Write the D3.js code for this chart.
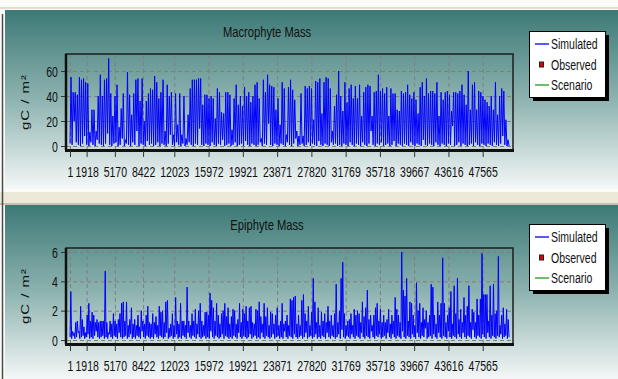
<!DOCTYPE html>
<html>
<head>
<meta charset="utf-8">
<script src="https://cdn.jsdelivr.net/npm/d3@7"></script>
<style>
  body { margin: 0; background: #fbfbf9; }
  text { font-family: "Liberation Sans", Arial, sans-serif; fill: #111; }
</style>
</head>
<body>
<div id="chart"></div>
<script>
// tick labels along the time axis (step numbers)
const xTicks = [1, 1918, 5170, 8422, 12023, 15972, 19921, 23871, 27820, 31769, 35718, 39667, 43616, 47565];
const tStart = 1, tEnd = 50600;

const legendLabels = ['Simulated', 'Observed', 'Scenario'];

// Macrophyte Mass, peak heights (gC/m2)
const macroPeaks = [
  55,43,43,41,55,53,54,51,50,11,29,29,12,40,57,40,53,54,70,42,24,40,49,15,30,42,5,59,41,25,42,53,54,36,54,20,36,42,46,45,56,51,38,43,53,12,49,40,43,9,42,17,42,9,40,6,25,46,53,53,53,54,54,33,41,
  41,38,40,38,22,46,43,27,26,43,43,41,13,38,49,33,40,32,47,40,43,35,40,49,51,38,6,53,43,57,49,48,47,29,38,17,51,46,9,47,53,45,37,12,8,42,8,48,46,48,46,21,52,51,54,26,51,55,54,46,12,32,41,60,40,28,51,35,46,49,38,
  48,38,49,24,43,47,49,48,24,43,44,57,44,46,42,47,24,46,42,42,29,28,44,42,43,49,41,38,43,37,26,47,51,40,54,42,44,44,42,51,24,43,37,43,44,41,28,43,43,42,44,49,41,33,60,29,49,51,29,44,43,40,37,35,32,40,29,51,25,40,46,44,21,5
];
// troughs between the spikes
const macroLows = [
  2,1,20,3,1,0,2,8,1,0, 3,1,0,5,2,1,0,2,10,1, 0,2,3,0,1,6,0,2,1,0, 3,1,12,0,2,1,0,4,1,2,
  0,1,3,0,2,1,0,2,9,1, 0,3,1,0,2,0,1,3,1,0, 2,1,14,1,0,2,1,0,3,1, 0,2,1,5,0,1,2,0,1,3,
  0,1,2,0,4,1,0,2,1,0, 1,3,0,2,1,18,1,0,2,1, 0,2,1,0,3,1,0,2,6,0, 1,2,0,1,3,0,2,1,0,4,
  1,0,2,1,0,3,1,2,0,1, 0,2,1,0,3,1,0,2,1,0, 3,1,0,2,12,1,0,2,1,3, 0,1,2,0,1,4,0,2,1,0,
  2,1,0,3,1,0,2,1,0,5, 1,0,2,1,0,3,1,0,2,1, 0,2,1,16,0,1,3,0,2,1, 0,1,2,0,3,1,0,2,1,0,
  2,1,0,3,1,0,2,8,1,0
];

// Epiphyte Mass, peak heights (gC/m2)
const epiPeaks = [
  3.3,0.6,0.5,1.2,1.3,0.6,2.3,1.4,0.9,0.5,1.7,2.5,1.3,1.9,1.7,1.2,1.4,1.2,1.3,1.3,1.3,4.7,1.2,0.5,1.3,1.1,1.8,1.3,1.1,1.4,
  1.8,2.5,2.6,1.3,2.6,1.0,1.4,2.2,1.1,1.4,1.0,1.7,0.9,2.0,1.3,1.1,1.7,2.3,1.2,1.1,1.8,1.2,1.6,1.0,2.3,1.9,2.0,1.2,2.6,2.7,
  0.8,1.1,1.8,1.0,2.9,1.3,1.1,2.5,1.3,1.3,1.0,3.6,1.3,1.0,1.8,1.3,2.1,1.1,2.0,2.5,1.3,1.0,1.9,1.9,1.7,3.2,
  2.7,2.2,1.3,2.5,1.7,1.1,1.8,2.0,2.5,1.6,2.2,1.1,1.6,2.1,2.0,1.1,1.4,2.5,1.2,2.1,1.8,2.3,1.3,2.2,2.3,1.2,1.1,2.1,2.0,2.6,
  1.6,1.1,2.5,1.6,2.2,1.0,1.9,1.8,1.1,1.7,2.2,1.0,1.3,2.5,1.1,1.3,1.7,1.0,2.8,2.7,2.9,3.0,1.1,1.7,1.0,2.7,3.1,1.8,1.3,2.3,
  1.0,1.9,4.2,2.6,1.2,2.2,1.0,1.9,1.3,1.8,1.2,2.3,1.3,1.7,1.0,1.8,3.8,1.2,2.0,4.2,5.3,1.8,1.0,1.3,1.4,1.8,1.0,2.1,1.7,2.0,1.8,1.2,
  2.6,1.6,2.2,3.4,1.4,1.7,1.0,1.7,2.2,2.5,1.3,2.1,1.2,1.7,1.2,1.4,2.1,1.1,1.7,1.3,2.9,2.1,1.7,1.2,6.0,3.4,3.0,4.2,1.3,2.6,
  2.5,1.7,1.0,3.9,2.0,2.5,1.2,2.2,1.4,2.0,1.2,1.7,3.8,3.6,1.7,1.1,2.6,1.7,2.5,5.6,2.5,1.2,1.7,2.2,3.3,1.1,3.7,1.8,4.2,1.4,
  2.1,1.2,2.9,1.7,2.3,3.7,1.2,2.1,1.9,1.2,2.8,1.7,2.8,5.9,3.1,3.1,3.1,1.3,3.7,1.7,3.8,1.8,2.0,5.7,1.0,1.7,2.2,1.1,2.1,1.4
];
const epiLows = [
  0.2,0.1,0.3,0.1,0.2,0.5,0.1,0.2,0.3,0.1, 0.2,0.4,0.1,0.2,0.1,0.3,0.6,0.2,0.1,0.2,
  0.3,0.1,0.2,0.1,0.4,0.2,0.1,0.3,0.2,0.1, 0.5,0.2,0.1,0.2,0.3,0.1,0.2,0.4,0.1,0.2,
  0.1,0.3,0.2,0.1,0.6,0.2,0.1,0.3,0.2,0.1, 0.2,0.1,0.4,0.2,0.1,0.3,0.2,0.1,0.2,0.5,
  0.1,0.2,0.3,0.1,0.2,0.4,0.1,0.2,0.1,0.3, 0.2,0.1,0.5,0.2,0.1,0.3,0.2,0.1,0.4,0.2,
  0.1,0.2,0.3,0.1,0.2,0.1,0.6,0.2,0.1,0.3, 0.2,0.1,0.2,0.4,0.1,0.3,0.2,0.1,0.2,0.1,
  0.3,0.2,0.1,0.5,0.2,0.1,0.3,0.2,0.1,0.2, 0.4,0.1,0.2,0.3,0.1,0.2,0.1,0.5,0.2,0.1,
  0.3,0.2,0.1,0.2,0.4,0.1,0.2,0.3,0.1,0.2, 0.1,0.6,0.2,0.1,0.3,0.2,0.1,0.4,0.2,0.1,
  0.2,0.3,0.1,0.2,0.5,0.1,0.2,0.3,0.1,0.2, 0.4,0.1,0.2,0.1,0.3,0.2,0.1,0.5,0.2,0.1,
  0.3,0.2,0.1,0.2,0.4,0.1,0.7,0.2,0.1,0.3, 0.2,0.1,0.4,0.2,0.1,0.3,0.2,0.1,0.5,0.2,
  0.1,0.3,0.2,0.1,0.6,0.2,0.1,0.3,0.2,0.4, 0.1,0.2,0.3,0.1,0.5,0.2,0.1,0.4,0.2,0.1,
  0.3,0.2,0.1,0.6,0.2,0.1,0.3,0.2,0.1,0.4, 0.2,0.1,0.5,0.2,0.1,0.3,0.2,0.8,0.1,0.2,
  0.3,0.1,0.4,0.2,0.1,0.5,0.2,0.1,0.3,0.2, 0.1,0.6,0.2,0.1,0.3,0.2,0.1,0.4,0.2,0.1,
  0.5,0.2,0.1,0.3,0.2,0.1,0.7,0.2,0.1,0.3, 0.2,0.1,0.4,0.2,0.1,0.5,0.2,0.1,0.3,0.2,
  0.1,0.3,0.2,0.4,0.1,0.2,0.3,0.1,0.2,0.1
];

const macroYTicks = [0, 20, 40, 60];
const epiYTicks = [0, 2, 4, 6];

const W = 618, H = 379;
const plotLeft = 66, plotRight = 513, plotH = 96;
const squeeze = 0.75; // the screenshot text is narrow

const svg = d3.select('#chart').append('svg')
  .attr('width', W)
  .attr('height', H);

const defs = svg.append('defs');
const grad = defs.append('linearGradient')
  .attr('id', 'panelGrad')
  .attr('x1', 0).attr('y1', 0).attr('x2', 0).attr('y2', 1);
grad.append('stop').attr('offset', '0%').attr('stop-color', '#3c7976');
grad.append('stop').attr('offset', '50%').attr('stop-color', '#8db3b0');
grad.append('stop').attr('offset', '100%').attr('stop-color', '#f4f7f7');

// window chrome round the two panels
svg.append('rect').attr('x', 0).attr('y', 0).attr('width', W).attr('height', H).attr('fill', '#fbfbf9');
svg.append('rect').attr('x', 0).attr('y', 7).attr('width', W).attr('height', 2).attr('fill', '#e2dece');
svg.append('rect').attr('x', 0).attr('y', 192).attr('width', W).attr('height', 11).attr('fill', '#ece9d8');
svg.append('rect').attr('x', 0).attr('y', 203).attr('width', W).attr('height', 2).attr('fill', '#c6c1ae');
svg.append('line').attr('x1', 2.5).attr('x2', 2.5).attr('y1', 14).attr('y2', H)
  .attr('stroke', '#4a4a4a').attr('stroke-width', 1.5);

const x = d3.scaleLinear()
  .domain([-460, 51057])
  .range([plotLeft, plotRight]);

function buildSeries(peaks, lows) {
  const step = (tEnd - tStart) / peaks.length;
  const pts = [];
  peaks.forEach((p, i) => {
    const t = tStart + i * step;
    pts.push({ t: t, v: lows[i] || 0 });
    pts.push({ t: t + step * 0.5, v: p });
  });
  pts.push({ t: tEnd, v: lows[peaks.length] || 0 });
  return pts;
}

function drawPanel(cfg) {
  const top = cfg.plotTop, bottom = cfg.plotTop + plotH;

  svg.append('rect')
    .attr('x', 5).attr('y', cfg.panelTop)
    .attr('width', W - 5).attr('height', cfg.panelH)
    .attr('fill', 'url(#panelGrad)');

  const y = d3.scaleLinear().domain(cfg.yDomain).range([bottom, top]);
  const g = svg.append('g');

  // dashed grid
  g.append('g')
    .attr('transform', `translate(0,${bottom})`)
    .call(d3.axisBottom(x).tickValues(xTicks).tickSize(-plotH).tickFormat(''))
    .call(s => s.select('.domain').remove())
    .selectAll('line').attr('stroke', '#7f7f7f').attr('stroke-dasharray', '4,3');
  g.append('g')
    .attr('transform', `translate(${plotLeft},0)`)
    .call(d3.axisLeft(y).tickValues(cfg.yTicks).tickSize(-(plotRight - plotLeft)).tickFormat(''))
    .call(s => s.select('.domain').remove())
    .selectAll('line').attr('stroke', '#7f7f7f').attr('stroke-dasharray', '4,3');

  // data
  const clipId = 'clip' + cfg.plotTop;
  defs.append('clipPath').attr('id', clipId)
    .append('rect').attr('x', plotLeft).attr('y', top)
    .attr('width', plotRight - plotLeft).attr('height', plotH);

  const line = d3.line().x(d => x(d.t)).y(d => y(d.v));
  g.append('path')
    .datum(buildSeries(cfg.peaks, cfg.lows))
    .attr('clip-path', `url(#${clipId})`)
    .attr('fill', 'none')
    .attr('stroke', '#0000ff')
    .attr('stroke-width', 1)
    .attr('d', line);

  // frame
  g.append('rect')
    .attr('x', plotLeft).attr('y', top)
    .attr('width', plotRight - plotLeft).attr('height', plotH)
    .attr('fill', 'none').attr('stroke', '#1b1f1e').attr('stroke-width', 1.5);
  g.append('line').attr('x1', plotLeft - 1).attr('x2', plotRight + 1)
    .attr('y1', bottom + 0.5).attr('y2', bottom + 0.5)
    .attr('stroke', '#111').attr('stroke-width', 3);
  g.append('line').attr('x1', plotLeft).attr('x2', plotLeft)
    .attr('y1', top).attr('y2', bottom)
    .attr('stroke', '#111').attr('stroke-width', 2.5);

  // axes
  const xAxis = g.append('g')
    .attr('transform', `translate(0,${bottom + 1})`)
    .call(d3.axisBottom(x).tickValues(xTicks).tickSize(6).tickFormat(d3.format('d')));
  xAxis.select('.domain').remove();
  xAxis.selectAll('line').attr('stroke', '#333');
  xAxis.selectAll('text')
    .attr('y', 26).attr('dy', null)
    .attr('transform', `scale(${squeeze},1)`)
    .style('font-size', '14px').attr('fill', '#111');

  const yAxis = g.append('g')
    .attr('transform', `translate(${plotLeft - 1},0)`)
    .call(d3.axisLeft(y).tickValues(cfg.yTicks).tickSize(4).tickFormat(d3.format('d')));
  yAxis.select('.domain').remove();
  yAxis.selectAll('line').attr('stroke', '#333');
  yAxis.selectAll('text')
    .attr('x', -9.5).attr('dy', '0.36em')
    .attr('transform', `scale(${squeeze},1)`)
    .style('font-size', '14px').attr('fill', '#111');

  // title and y label
  g.append('text')
    .attr('transform', `translate(267,${cfg.titleY}) scale(0.8,1)`)
    .attr('text-anchor', 'middle')
    .style('font-size', '14px')
    .text(cfg.title);

  g.append('text')
    .attr('transform', `translate(29,${(top + bottom) / 2}) rotate(-90) scale(1,${squeeze})`)
    .attr('text-anchor', 'middle')
    .style('font-size', '15px')
    .style('letter-spacing', '1px')
    .text('gC / m²');

  // legend
  const lg = g.append('g').attr('transform', `translate(529,${cfg.legendTop})`);
  lg.append('rect').attr('x', 4).attr('y', 4).attr('width', 76).attr('height', 66).attr('fill', '#000');
  lg.append('rect').attr('x', 0.5).attr('y', 0.5).attr('width', 76).attr('height', 66)
    .attr('fill', '#fff').attr('stroke', '#000');

  legendLabels.forEach((lab, i) => {
    const cy = 13 + i * 20.5;
    if (i === 1) {
      lg.append('rect').attr('x', 10.5).attr('y', cy - 2.5).attr('width', 4).attr('height', 5)
        .attr('fill', '#e00000').attr('stroke', '#222').attr('stroke-width', 1);
    } else {
      lg.append('line').attr('x1', 6).attr('x2', 20).attr('y1', cy).attr('y2', cy)
        .attr('stroke', i === 0 ? '#2222ff' : '#3fa53f').attr('stroke-width', 1.5);
    }
    lg.append('text')
      .attr('transform', `translate(22,${cy + 5}) scale(${squeeze},1)`)
      .style('font-size', '14px')
      .text(lab);
  });
}

drawPanel({
  panelTop: 10, panelH: 179, plotTop: 54, titleY: 37, legendTop: 31,
  title: 'Macrophyte Mass', yDomain: [-3.2, 73.6], yTicks: macroYTicks,
  peaks: macroPeaks, lows: macroLows
});

drawPanel({
  panelTop: 205, panelH: 174, plotTop: 248, titleY: 230, legendTop: 224,
  title: 'Epiphyte Mass', yDomain: [-0.27, 6.27], yTicks: epiYTicks,
  peaks: epiPeaks, lows: epiLows
});
</script>
</body>
</html>
